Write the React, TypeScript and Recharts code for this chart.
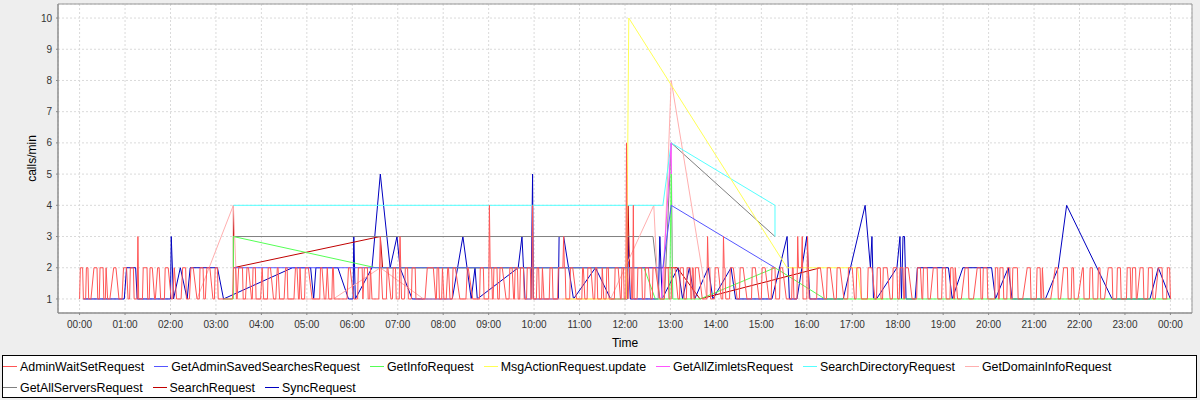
import { LineChart, Line, XAxis, YAxis, CartesianGrid, ReferenceArea } from 'recharts';

type Pt = [number, number];

// time axis is minutes after midnight
const hourTicks = [0, 60, 120, 180, 240, 300, 360, 420, 480, 540, 600, 660, 720, 780, 840, 900, 960, 1020, 1080, 1140, 1200, 1260, 1320, 1380, 1440];
const valueTicks = [1, 2, 3, 4, 5, 6, 7, 8, 9, 10];

const adminWaitSet: Pt[] = [
  [0, 1], [1, 2], [4, 2], [5, 1], [8, 1], [9, 2], [11, 2], [12, 1], [15, 1], [19, 2], [23, 2], [24, 1],
  [26, 1], [27, 2], [31, 2], [32, 1], [34, 1], [35, 2], [37, 1], [40, 1], [45, 2], [48, 2], [52, 1],
  [56, 1], [58, 2], [62, 2], [64, 1], [66, 1], [67, 2], [71, 2], [72, 1], [76, 1], [77, 3], [78, 1],
  [83, 1], [84, 2], [89, 2], [90, 1], [92, 1], [93, 2], [96, 2], [99, 1], [100, 1], [103, 2], [105, 2], [107, 1],
  [112, 1], [113, 2], [117, 2], [121, 1], [123, 1], [125, 2], [128, 1], [134, 1], [136, 2], [140, 2], [141, 1],
  [145, 1], [147, 2], [150, 2], [155, 1], [158, 1], [159, 2], [163, 2], [164, 1], [166, 1], [168, 2], [172, 2], [176, 1],
  [178, 1], [179, 2], [182, 2], [183, 1], [202, 1], [203, 2], [206, 2], [207, 1], [208, 1], [210, 2], [215, 2], [216, 1],
  [219, 1], [221, 2], [223, 2], [227, 1], [228, 1], [229, 2], [232, 2], [233, 1], [239, 1], [241, 2], [243, 1],
  [248, 1], [249, 2], [252, 2], [256, 1], [259, 1], [261, 2], [262, 2], [264, 1], [270, 1], [272, 2], [274, 2], [275, 1],
  [283, 1], [285, 2], [287, 2], [289, 1], [290, 1], [291, 2], [293, 1], [297, 1], [298, 2], [302, 2], [307, 1],
  [317, 1], [318, 2], [320, 2], [323, 1], [325, 1], [327, 2], [329, 1], [333, 1], [334, 2], [335, 2], [336, 1],
  [353, 1], [355, 2], [357, 2], [362, 1], [367, 1], [368, 2], [373, 2], [374, 1], [376, 2], [380, 2], [381, 1],
  [383, 1], [384, 2], [386, 1], [395, 1], [396, 2], [397, 3], [398, 2], [400, 1], [405, 1], [406, 2], [407, 2], [411, 1],
  [413, 1], [414, 2], [417, 2], [418, 1], [422, 1], [423, 3], [424, 2], [425, 1], [429, 1], [430, 2], [433, 2], [434, 1],
  [438, 1], [439, 2], [443, 2], [444, 1], [456, 1], [459, 2], [467, 2], [470, 1], [471, 1], [472, 2], [474, 2], [475, 1],
  [478, 1], [479, 2], [481, 1], [484, 1], [486, 2], [487, 2], [489, 1], [492, 1], [493, 2], [496, 2], [502, 1],
  [510, 1], [512, 2], [513, 2], [519, 1], [528, 1], [529, 2], [533, 2], [534, 1], [540, 1], [541, 4], [542, 2], [544, 2], [545, 1],
  [546, 1], [547, 2], [551, 2], [552, 1], [554, 1], [555, 2], [558, 2], [563, 1], [567, 1], [568, 2], [571, 2], [573, 1],
  [574, 1], [575, 2], [578, 2], [579, 1], [581, 1], [582, 2], [586, 2], [587, 1], [590, 1], [591, 2], [595, 2], [596, 1],
  [597, 1], [598, 4], [599, 1], [603, 1], [604, 2], [606, 2], [607, 1], [610, 1], [611, 2], [613, 1],
  [620, 1], [621, 2], [624, 2], [625, 1], [631, 1], [632, 2], [638, 2], [639, 3], [640, 2], [641, 2], [642, 1],
  [647, 1], [648, 2], [651, 2], [656, 1], [663, 1], [664, 2], [665, 2], [667, 1], [670, 1], [671, 2], [675, 2], [678, 1],
  [680, 1], [681, 2], [683, 2], [684, 1], [689, 1], [690, 2], [692, 1], [695, 1], [696, 2], [698, 2], [699, 1],
  [706, 1], [707, 2], [711, 2], [714, 1], [715, 1], [716, 2], [718, 2], [719, 1], [721, 1], [722, 6], [723, 2], [724, 1],
  [726, 2], [728, 2], [729, 1], [730, 1], [731, 4], [732, 1], [736, 1], [737, 2], [742, 2], [743, 1],
  [746, 1], [747, 2], [751, 2], [754, 1], [756, 1], [757, 2], [760, 2], [766, 1], [772, 1], [773, 2], [777, 2], [778, 1],
  [781, 1], [782, 2], [786, 2], [790, 1], [792, 1], [793, 2], [797, 2], [798, 1], [801, 1], [802, 2], [806, 2], [807, 1],
  [808, 1], [809, 2], [810, 2], [811, 1], [812, 1], [813, 2], [817, 2], [822, 1], [828, 1], [829, 3], [830, 2], [832, 2], [833, 1],
  [838, 1], [839, 2], [843, 2], [847, 1], [849, 1], [850, 3], [851, 2], [852, 2], [853, 1], [858, 1], [859, 2], [863, 2], [868, 1],
  [871, 1], [872, 2], [876, 2], [881, 1], [887, 1], [888, 2], [892, 2], [897, 1], [900, 1], [901, 2], [905, 2], [910, 1],
  [913, 1], [914, 2], [918, 2], [919, 1], [924, 1], [925, 2], [928, 2], [933, 1], [940, 1], [941, 2], [942, 2], [943, 1],
  [947, 1], [948, 3], [949, 2], [953, 2], [954, 3], [955, 1], [960, 1], [961, 3], [962, 2], [963, 1],
  [973, 1], [974, 2], [978, 2], [983, 1], [986, 1], [987, 2], [991, 2], [996, 1], [999, 1], [1000, 2], [1004, 2], [1009, 1],
  [1014, 1], [1015, 2], [1020, 2], [1023, 1], [1025, 1], [1026, 2], [1031, 2], [1032, 1], [1040, 1], [1041, 2], [1046, 2], [1050, 1],
  [1052, 1], [1053, 2], [1057, 2], [1058, 1], [1060, 1], [1061, 2], [1066, 2], [1070, 1], [1073, 1], [1074, 2], [1079, 2], [1080, 1],
  [1082, 1], [1083, 2], [1087, 2], [1088, 1], [1089, 1], [1090, 2], [1094, 2], [1099, 1], [1105, 1], [1106, 2], [1110, 2], [1112, 1],
  [1113, 1], [1114, 2], [1119, 2], [1120, 1], [1123, 1], [1127, 2], [1132, 2], [1133, 1], [1138, 1], [1139, 2], [1143, 2], [1144, 1],
  [1149, 1], [1150, 2], [1153, 2], [1154, 1], [1155, 1], [1156, 2], [1159, 1], [1164, 1], [1169, 2], [1173, 2], [1174, 1],
  [1180, 1], [1185, 2], [1189, 2], [1190, 1], [1192, 1], [1193, 2], [1198, 2], [1199, 1], [1208, 1], [1209, 2], [1212, 2], [1213, 1],
  [1214, 1], [1215, 2], [1219, 2], [1220, 1], [1224, 1], [1225, 2], [1228, 2], [1229, 1], [1231, 1], [1232, 2], [1238, 2], [1239, 1],
  [1245, 1], [1251, 2], [1255, 2], [1256, 1], [1263, 1], [1264, 2], [1268, 2], [1269, 1], [1270, 1], [1271, 2], [1273, 1],
  [1282, 1], [1288, 2], [1291, 2], [1292, 1], [1295, 1], [1299, 2], [1304, 2], [1305, 1], [1309, 1], [1310, 2], [1312, 2], [1313, 1],
  [1318, 1], [1324, 2], [1325, 2], [1326, 1], [1333, 1], [1334, 2], [1337, 2], [1338, 1], [1344, 1], [1345, 2], [1347, 2], [1348, 1],
  [1353, 1], [1358, 2], [1363, 2], [1364, 1], [1369, 1], [1370, 2], [1374, 2], [1375, 1], [1382, 1], [1383, 2], [1387, 2], [1388, 1],
  [1389, 1], [1390, 2], [1394, 2], [1395, 1], [1396, 1], [1400, 2], [1404, 2], [1405, 1], [1410, 1], [1411, 2], [1416, 2], [1417, 1],
  [1420, 1], [1424, 2], [1429, 2], [1430, 1], [1435, 1], [1436, 2], [1439, 2], [1440, 1],
];

const getAdminSavedSearches: Pt[] = [[203, 2], [770, 2], [781, 4], [918, 2]];

const getInfo: Pt[] = [
  [190, 1], [203, 1], [203, 3], [391, 2], [745, 2], [760, 1], [779, 1], [781, 5], [783, 1],
  [819, 1], [918, 2], [984, 1], [1440, 1],
];

const msgActionUpdate: Pt[] = [[640, 1], [722, 1], [725, 10], [934, 2], [1027, 2], [1032, 1], [1060, 1]];

const getAllZimlets: Pt[] = [[768, 1], [781, 6], [783, 1]];

const searchDirectory: Pt[] = [[203, 4], [770, 4], [781, 6], [918, 4], [918, 3]];

const getDomainInfo: Pt[] = [
  [155, 1], [203, 4], [208, 1], [335, 1], [397, 2], [454, 1], [701, 1], [758, 4], [764, 1],
  [770, 1], [781, 8], [828, 1],
];

const getAllServers: Pt[] = [[203, 3], [757, 3], [766, 1], [772, 1], [781, 6], [918, 3]];

const searchRequest: Pt[] = [
  [203, 4], [203, 2], [397, 3], [400, 2], [723, 2], [724, 4], [726, 2], [789, 2], [819, 1], [978, 2],
];

const syncRequest: Pt[] = [
  [5, 1], [27, 1], [59, 1], [62, 2], [74, 2], [76, 1], [120, 1], [121, 3], [124, 1], [133, 2], [142, 1],
  [146, 2], [182, 2], [190, 1], [281, 2], [305, 2], [309, 1], [312, 2], [341, 2], [355, 1], [361, 1], [362, 3], [364, 1],
  [386, 2], [397, 5], [410, 2], [419, 3], [423, 2], [439, 1], [492, 1], [506, 3], [517, 1], [522, 2], [525, 1],
  [579, 2], [584, 3], [588, 1], [596, 1], [598, 5], [599, 1], [632, 1], [633, 3], [639, 3], [652, 1], [681, 2], [701, 1],
  [723, 1], [724, 3], [727, 1], [764, 1], [766, 3], [769, 1], [790, 2], [796, 1], [805, 2], [812, 1], [830, 2], [836, 1],
  [860, 2], [866, 1], [914, 1], [934, 3], [937, 1], [947, 1], [960, 3], [964, 1], [1008, 1], [1037, 4], [1044, 2], [1046, 3],
  [1048, 1], [1052, 1], [1079, 2], [1083, 3], [1085, 1], [1087, 3], [1089, 3], [1091, 1], [1103, 1], [1106, 2], [1147, 2],
  [1152, 1], [1166, 2], [1204, 2], [1209, 1], [1226, 2], [1231, 1], [1275, 1], [1292, 2], [1303, 4], [1363, 1], [1383, 1],
  [1413, 1], [1424, 2], [1440, 1],
];

const series = [
  { name: 'AdminWaitSetRequest', color: '#FF5555', points: adminWaitSet },
  { name: 'GetAdminSavedSearchesRequest', color: '#5555FF', points: getAdminSavedSearches },
  { name: 'GetInfoRequest', color: '#55FF55', points: getInfo },
  { name: 'MsgActionRequest.update', color: '#FFFF55', points: msgActionUpdate },
  { name: 'GetAllZimletsRequest', color: '#FF55FF', points: getAllZimlets },
  { name: 'SearchDirectoryRequest', color: '#55FFFF', points: searchDirectory },
  { name: 'GetDomainInfoRequest', color: '#FFAFAF', points: getDomainInfo },
  { name: 'GetAllServersRequest', color: '#808080', points: getAllServers },
  { name: 'SearchRequest', color: '#C00000', points: searchRequest },
  { name: 'SyncRequest', color: '#0000C0', points: syncRequest },
];

const legendRows = [series.slice(0, 7), series.slice(7)];

const fmtHour = (m: number) => `${String(Math.floor(m / 60) % 24).padStart(2, '0')}:00`;

const YTitle = (props: any) => {
  const vb = props.viewBox || { y: 4, height: 309 };
  const x = 32;
  const y = vb.y + vb.height / 2;
  return (
    <text x={x} y={y} transform={`rotate(-90 ${x} ${y})`} textAnchor="middle" dominantBaseline="central" fontSize={12} fill="#000">
      calls/min
    </text>
  );
};

export default function App() {
  return (
    <div
      style={{
        position: 'absolute',
        left: 0,
        top: 0,
        width: 1200,
        height: 400,
        overflow: 'hidden',
        background: '#EEEEEE',
        fontFamily: '"Liberation Sans", Arial, sans-serif',
      }}
    >
      <LineChart width={1200} height={400} margin={{ top: 4, right: 8, bottom: 47, left: 0 }}>
        <CartesianGrid stroke="#dadada" strokeDasharray="2 2" fill="#FFFFFF" fillOpacity={1} />
        <XAxis
          type="number"
          dataKey="t"
          domain={[-28.5, 1468.5]}
          ticks={hourTicks}
          interval={0}
          allowDataOverflow
          tickFormatter={fmtHour}
          height={40}
          tickSize={2}
          tickMargin={6}
          stroke="#888888"
          tick={{ fontSize: 10, fill: '#333' }}
          label={{ value: 'Time', position: 'insideBottom', offset: 6, fontSize: 12, fill: '#000' }}
        />
        <YAxis
          type="number"
          domain={[0.55, 10.45]}
          ticks={valueTicks}
          interval={0}
          allowDataOverflow
          width={58}
          tickSize={2}
          tickMargin={4}
          stroke="#888888"
          tick={{ fontSize: 10, fill: '#333' }}
          label={<YTitle />}
        />
        <ReferenceArea x1={-28.5} x2={1468.5} y1={0.55} y2={10.45} fill="none" stroke="#999999" strokeWidth={1} />
        {[...series].reverse().map((s) => (
          <Line
            key={s.name}
            data={s.points.map(([t, v]) => ({ t, v }))}
            dataKey="v"
            name={s.name}
            type="linear"
            stroke={s.color}
            strokeWidth={1}
            dot={false}
            activeDot={false}
            isAnimationActive={false}
          />
        ))}
      </LineChart>
      <div
        style={{
          position: 'absolute',
          zIndex: 2,
          left: 2,
          top: 355,
          width: 1195,
          height: 43,
          boxSizing: 'border-box',
          border: '1px solid #000000',
          background: '#FFFFFF',
          fontSize: 12.4,
          lineHeight: '14px',
          color: '#000',
        }}
      >
        {legendRows.map((row, ri) => (
          <div key={ri} style={{ display: 'flex', alignItems: 'center', height: 21 }}>
            {row.map((s) => (
              <div key={s.name} style={{ display: 'flex', alignItems: 'center', marginRight: 10 }}>
                <div style={{ width: 14, height: 1, background: s.color, marginRight: 3 }} />
                <span style={{ whiteSpace: 'nowrap' }}>{s.name}</span>
              </div>
            ))}
          </div>
        ))}
      </div>
    </div>
  );
}
